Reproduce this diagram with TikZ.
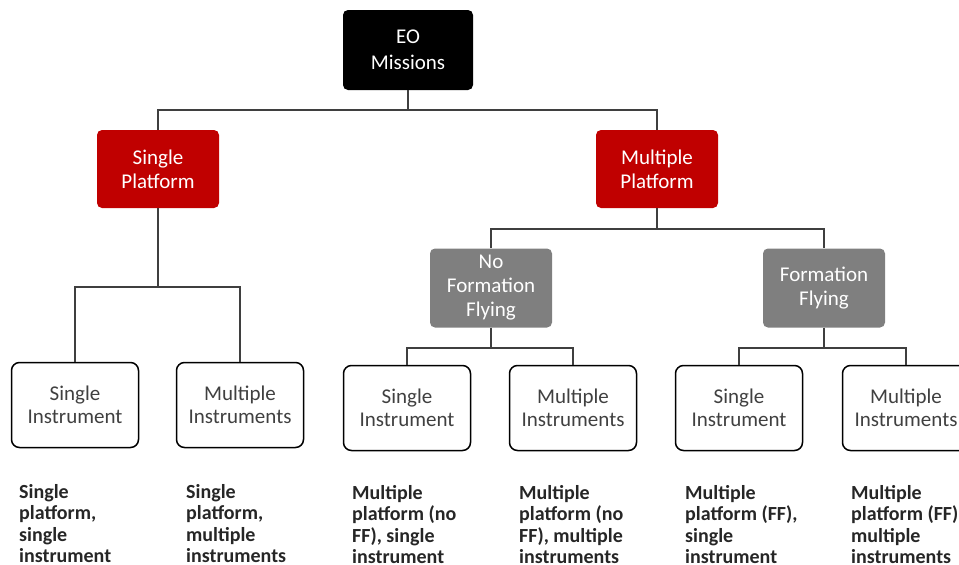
\documentclass[tikz,border=0pt]{standalone}
\usepackage{fontspec}
\setmainfont{Carlito}
\definecolor{eored}{HTML}{C00000}
\definecolor{eogray}{HTML}{7F7F7F}
\definecolor{linec}{HTML}{3F3F3F}
\definecolor{boxtext}{HTML}{404040}
\definecolor{lbltext}{HTML}{262626}
\begin{document}
\begin{tikzpicture}[x=1pt,y=-1pt,
  hdr/.style={rounded corners=5pt, inner sep=0pt, align=center, text=white,
    font=\fontsize{21}{24}\selectfont, minimum width=122pt, minimum height=78pt},
  blackbox/.style={hdr, fill=black, minimum width=130pt, minimum height=80pt,
    font=\fontsize{21}{26}\selectfont},
  redbox/.style={hdr, fill=eored},
  graybox/.style={hdr, fill=eogray, minimum height=79pt},
  leafbox/.style={draw=black, line width=1.5pt, rounded corners=8pt, fill=white,
    inner sep=0pt, align=center, text=boxtext, font=\fontsize{21}{22.5}\selectfont,
    minimum width=127pt, minimum height=85pt},
  lbl/.style={anchor=north west, inner sep=0pt, align=left, text=lbltext,
    font=\bfseries\fontsize{20}{21.2}\selectfont},
  conn/.style={draw=linec, line width=2pt}
]
\useasboundingbox (0,0) rectangle (959,565);

% top level
\node[blackbox] (eo) at (408,50) {EO\\Missions};
\node[redbox] (sp) at (158,169) {Single\\Platform};
\node[redbox] (mp) at (657,169) {Multiple\\Platform};
\node[graybox] (nff) at (491,288) {No\\Formation\\Flying};
\node[graybox] (ff) at (824,288) {Formation\\Flying};

% leaves
\node[leafbox] (b1) at (75,405) {Single\\Instrument};
\node[leafbox] (b2) at (240,405) {Multiple\\Instruments};
\node[leafbox] (b3) at (407,408) {Single\\Instrument};
\node[leafbox] (b4) at (573,408) {Multiple\\Instruments};
\node[leafbox] (b5) at (739,408) {Single\\Instrument};
\node[leafbox] (b6) at (906,408) {Multiple\\Instruments};

% junctions
\coordinate (j0) at (408,110);
\coordinate (j1) at (158,287);
\coordinate (j2) at (657,229);
\coordinate (j3) at (491,348);
\coordinate (j4) at (824,348);

% connectors
\draw[conn] (eo.south) -- (j0) -| (sp.north);
\draw[conn] (j0) -| (mp.north);
\draw[conn] (sp.south) -- (j1) -| (b1.north);
\draw[conn] (j1) -| (b2.north);
\draw[conn] (mp.south) -- (j2) -| (nff.north);
\draw[conn] (j2) -| (ff.north);
\draw[conn] (nff.south) -- (j3) -| (b3.north);
\draw[conn] (j3) -| (b4.north);
\draw[conn] (ff.south) -- (j4) -| (b5.north);
\draw[conn] (j4) -| (b6.north);

% labels
\node[lbl] (l1) at (19,484.5) {Single\\platform,\\single\\instrument};
\node[lbl] (l2) at (186,484.5) {Single\\platform,\\multiple\\instruments};
\node[lbl] (l3) at (352,485.5) {Multiple\\platform (no\\FF), single\\instrument};
\node[lbl] (l4) at (519,485.5) {Multiple\\platform (no\\FF), multiple\\instruments};
\node[lbl] (l5) at (685,485.5) {Multiple\\platform (FF),\\single\\instrument};
\node[lbl] (l6) at (851,485.5) {Multiple\\platform (FF),\\multiple\\instruments};
\end{tikzpicture}
\end{document}
